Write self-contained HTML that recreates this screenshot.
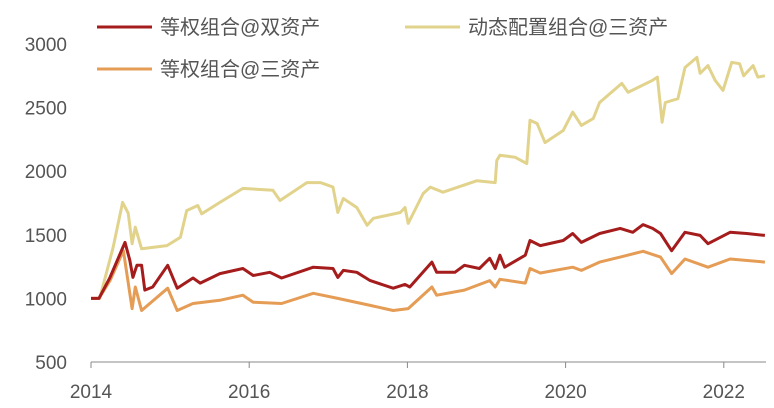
<!DOCTYPE html>
<html><head><meta charset="utf-8"><style>
body{margin:0;background:#fff;}
svg{display:block;font-family:"Liberation Sans","Noto Sans CJK SC",sans-serif;}
</style></head><body>
<svg id="chart" width="774" height="408">
<g id="axes"></g>
<g id="series"></g>
<g>
 <g>
  <line x1="97" y1="27" x2="152" y2="27" stroke="#a51c1c" stroke-width="3"/>
  <text x="160" y="34" font-size="20" fill="#555">等权组合@双资产</text></g>
 <g>
  <line x1="405" y1="27" x2="460" y2="27" stroke="#e2d38c" stroke-width="3"/>
  <text x="468" y="34" font-size="20" fill="#555">动态配置组合@三资产</text></g>
 <g>
  <line x1="97" y1="69" x2="152" y2="69" stroke="#e59c55" stroke-width="3"/>
  <text x="160" y="76" font-size="20" fill="#555">等权组合@三资产</text></g>
</g>
</svg>
<script>
const yTicks=[500,1000,1500,2000,2500,3000];
const xTicks=[2014,2016,2018,2020,2022];
const dynT=[2014.0,2014.11,2014.28,2014.4,2014.47,2014.52,2014.56,2014.64,2014.96,2015.13,2015.21,2015.35,2015.4,2015.63,2015.92,2016.3,2016.39,2016.73,2016.9,2017.06,2017.12,2017.19,2017.36,2017.49,2017.57,2017.91,2017.97,2018.01,2018.2,2018.29,2018.45,2018.88,2019.11,2019.13,2019.17,2019.36,2019.51,2019.55,2019.64,2019.74,2019.97,2020.09,2020.2,2020.35,2020.43,2020.71,2020.79,2021.1,2021.16,2021.22,2021.26,2021.42,2021.51,2021.66,2021.7,2021.8,2021.89,2021.99,2022.1,2022.2,2022.25,2022.37,2022.43,2022.52];
const dynV=[1000,1000,1400,1755,1670,1430,1560,1390,1415,1480,1690,1730,1665,1755,1865,1850,1770,1910,1910,1875,1675,1785,1715,1575,1630,1675,1715,1590,1825,1875,1835,1925,1910,2085,2125,2110,2060,2400,2375,2225,2320,2465,2360,2415,2540,2690,2620,2715,2740,2385,2540,2570,2815,2895,2770,2830,2715,2635,2855,2845,2750,2830,2740,2750];
const eq2T=[2014.0,2014.1,2014.24,2014.43,2014.49,2014.53,2014.58,2014.64,2014.68,2014.78,2014.97,2015.09,2015.29,2015.38,2015.63,2015.92,2016.05,2016.26,2016.41,2016.81,2017.06,2017.12,2017.19,2017.36,2017.53,2017.82,2017.97,2018.03,2018.31,2018.37,2018.6,2018.72,2018.91,2019.04,2019.11,2019.17,2019.23,2019.49,2019.55,2019.68,2019.97,2020.09,2020.2,2020.43,2020.69,2020.85,2020.98,2021.1,2021.2,2021.34,2021.51,2021.7,2021.8,2022.08,2022.29,2022.52];
const eq2V=[1000,1000,1165,1440,1300,1165,1260,1260,1065,1090,1260,1080,1160,1120,1195,1235,1180,1205,1160,1245,1235,1165,1220,1205,1140,1080,1110,1090,1285,1205,1205,1260,1235,1315,1235,1340,1245,1340,1455,1415,1455,1510,1440,1510,1550,1520,1580,1550,1510,1375,1520,1495,1430,1520,1510,1495];
const eq3T=[2014.0,2014.1,2014.24,2014.41,2014.52,2014.56,2014.64,2014.97,2015.09,2015.29,2015.63,2015.92,2016.05,2016.41,2016.81,2017.12,2017.53,2017.82,2018.01,2018.31,2018.37,2018.72,2019.04,2019.11,2019.17,2019.49,2019.55,2019.68,2020.09,2020.2,2020.43,2020.69,2020.98,2021.2,2021.34,2021.51,2021.8,2022.08,2022.52];
const eq3V=[1000,1000,1140,1375,920,1090,905,1080,905,960,985,1025,970,960,1040,1000,945,905,920,1090,1025,1065,1140,1090,1150,1120,1235,1200,1245,1220,1285,1325,1370,1325,1195,1310,1245,1310,1285];
const NS='http://www.w3.org/2000/svg';
const xS=t=>91+(t-2014)*79.1;
const yS=v=>362-(v-500)*(318/2500);
const axes=document.getElementById('axes');
function mk(tag,attrs,parent){const e=document.createElementNS(NS,tag);for(const k in attrs)e.setAttribute(k,attrs[k]);parent.appendChild(e);return e;}
const ax=mk('line',{x1:91,y1:362,x2:766,y2:362,stroke:'#888','stroke-width':1},axes);


yTicks.forEach(v=>{const t=mk('text',{x:67,y:yS(v)+7,'text-anchor':'end','font-size':19,fill:'#555'},axes);t.textContent=v;

});
xTicks.forEach(v=>{const l=mk('line',{x1:xS(v),y1:362,x2:xS(v),y2:368,stroke:'#888'},axes);


const t=mk('text',{x:xS(v),y:398,'text-anchor':'middle','font-size':19,fill:'#555'},axes);t.textContent=v;

});
const ser=document.getElementById('series');
function draw(T,V,color,name){const d=T.map((t,i)=>(i?'L':'M')+xS(t).toFixed(1)+','+yS(V[i]).toFixed(1)).join('');
const p=mk('path',{d:d,fill:'none',stroke:color,'stroke-width':3,'stroke-linejoin':'round'},ser);

}
draw(dynT,dynV,'#e2d38c','line-dynamic-three-asset');
draw(eq3T,eq3V,'#e59c55','line-equal-three-asset');
draw(eq2T,eq2V,'#a51c1c','line-equal-two-asset');
</script>
</body></html>
